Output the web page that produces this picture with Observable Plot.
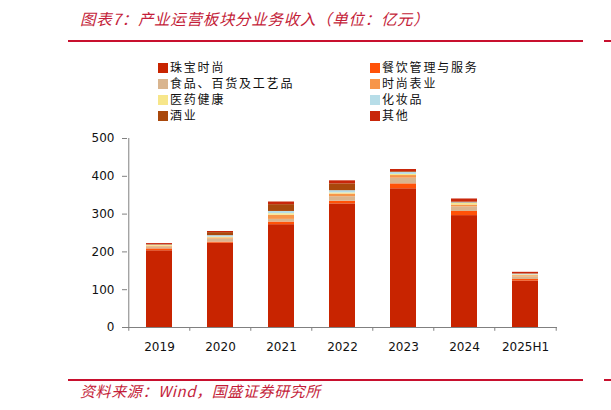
<!DOCTYPE html>
<html>
<head>
<meta charset="utf-8">
<script src="https://cdn.jsdelivr.net/npm/d3@7"></script>
<script src="https://cdn.jsdelivr.net/npm/@observablehq/plot@0.6"></script>
<style>
  html, body { margin: 0; padding: 0; background: #fff; }
  #wrap { position: relative; width: 611px; height: 410px; overflow: hidden; font-family: "Noto Sans CJK SC", sans-serif; }
  #chart { position: absolute; left: 0; top: 0; }
  .title { position: absolute; left: 80px; top: 8px; font-size: 15.5px; line-height: 20px; font-style: italic; color: #C41E3A; white-space: nowrap; letter-spacing: 0.7px; }
  .foot { position: absolute; left: 80px; top: 382px; font-size: 15px; line-height: 18px; font-style: italic; color: #C41E3A; white-space: nowrap; letter-spacing: 0.6px; }
  .hline { position: absolute; height: 2px; background: #C8102E; }
  .leg { position: absolute; font-size: 12px; color: #111; white-space: nowrap; line-height: 15px; height: 15px; letter-spacing: 1.8px; }
  .leg i { display: inline-block; width: 10px; height: 10px; margin-right: 2px; vertical-align: -1px; }
</style>
</head>
<body>
<div id="wrap">
  <div class="title">图表7：产业运营板块分业务收入（单位：亿元）</div>
  <div class="hline" style="left:68px; top:40px; width:515px;"></div>
  <div class="hline" style="left:604px; top:40px; width:7px;"></div>
  <div id="legend"></div>
  <div id="chart"></div>
  <div class="hline" style="left:68px; top:379px; width:515px;"></div>
  <div class="hline" style="left:604px; top:379px; width:7px;"></div>
  <div class="foot">资料来源：Wind，国盛证券研究所</div>
</div>
<script>
const years = ["2019", "2020", "2021", "2022", "2023", "2024", "2025H1"];
const segments = ["珠宝时尚", "餐饮管理与服务", "食品、百货及工艺品", "时尚表业", "医药健康", "化妆品", "酒业", "其他"];
const colors = ["#C82400", "#FF5208", "#D9B58F", "#F7964A", "#F7E68A", "#B7DDE8", "#A9480C", "#C8260A"];
const jewelry   = [203, 223, 272, 327, 367, 296, 123];
const catering  = [5, 3, 7, 7, 13, 11, 4];
const food      = [5, 8, 7, 12, 15, 12, 7];
const watch     = [2, 3, 11, 7, 7, 5, 3];
const medical   = [2, 2, 4, 3, 3, 4, 2];
const cosmetics = [1, 4, 6, 6, 5, 2, 2];
const liquor    = [1, 8, 18, 18, 2, 2, 1];
const other     = [3, 3, 7, 8, 6, 8, 4];
const yTicks = [0, 100, 200, 300, 400, 500];

const seriesValues = [jewelry, catering, food, watch, medical, cosmetics, liquor, other];
const tidy = [];
segments.forEach((s, si) => {
  years.forEach((y, yi) => tidy.push({year: y, segment: s, value: seriesValues[si][yi]}));
});

// legend
const legend = document.getElementById("legend");
segments.forEach((s, i) => {
  const col = i % 2, row = Math.floor(i / 2);
  const d = document.createElement("div");
  d.className = "leg";
  d.style.left = (col === 0 ? 158 : 370) + "px";
  d.style.top = (59 + row * 16) + "px";
  d.innerHTML = `<i style="background:${colors[i]}"></i>${s}`;
  legend.appendChild(d);
});

const W = 611, H = 410, ML = 127, MR = 54, MT = 138, MB = 83;
const step = (W - ML - MR) / years.length;
const axisColor = "#808080";

const chart = Plot.plot({
  width: W, height: H,
  marginLeft: ML, marginRight: MR, marginTop: MT, marginBottom: MB,
  style: {fontFamily: "DejaVu Sans", fontSize: "12px", color: "#111", background: "transparent", overflow: "visible"},
  x: {domain: years, paddingInner: 0.58, paddingOuter: 0.29, label: null},
  y: {domain: [0, 500], label: null},
  color: {domain: segments, range: colors},
  marks: [
    Plot.barY(tidy, {x: "year", y: "value", fill: "segment"}),
    Plot.ruleY([0], {stroke: axisColor, strokeWidth: 1}),
    Plot.ruleX([years[0]], {x: d => d, dx: -step / 2, y1: () => 0, y2: () => 500, stroke: axisColor}),
    Plot.ruleX(years, {x: d => d, dx: -step / 2, y1: () => 0, y2: () => -10, stroke: axisColor}),
    Plot.ruleX([years[years.length - 1]], {x: d => d, dx: step / 2, y1: () => 0, y2: () => -10, stroke: axisColor}),
    Plot.axisY({ticks: yTicks, tickSize: 5, tickPadding: 8, stroke: axisColor}),
    Plot.axisX({tickSize: 0, tickPadding: 15})
  ]
});
document.getElementById("chart").appendChild(chart);
</script>
</body>
</html>
